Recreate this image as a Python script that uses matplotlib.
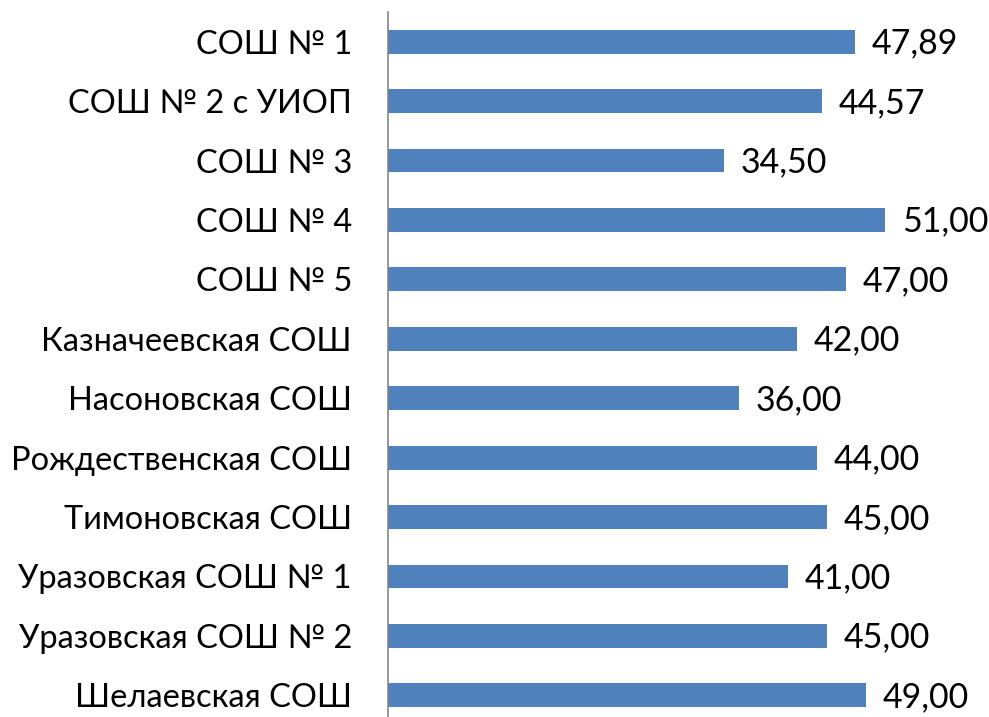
import matplotlib
matplotlib.use("Agg")
import matplotlib.pyplot as plt

categories = ["СОШ № 1", "СОШ № 2 с УИОП", "СОШ № 3", "СОШ № 4", "СОШ № 5",
              "Казначеевская СОШ", "Насоновская СОШ", "Рождественская СОШ",
              "Тимоновская СОШ", "Уразовская СОШ № 1", "Уразовская СОШ № 2",
              "Шелаевская СОШ"]
values = [47.89, 44.57, 34.50, 51.00, 47.00, 42.00, 36.00, 44.00, 45.00, 41.00, 45.00, 49.00]

plt.rcParams['font.family'] = ['Lato', 'DejaVu Sans']

W, H = 989, 717
fig = plt.figure(figsize=(W/100, H/100), dpi=100)
left, right, top, bottom = 388, 969, 12, 725
ax = fig.add_axes([left/W, 1 - bottom/H, (right-left)/W, (bottom-top)/H])

y = list(range(len(categories)))
ax.barh(y, values, height=0.4, color="#4F81BD")
ax.set_xlim(0, 59.6)
ax.set_ylim(len(categories) - 0.5, -0.5)

for yi, v in zip(y, values):
    ax.text(v + 1.7, yi + 0.03, f"{v:.2f}".replace(".", ","), va="center", ha="left",
            fontsize=24.5, color="black")

ax.set_yticks(y)
ax.set_yticklabels(categories, fontsize=23.5)
ax.tick_params(axis="y", length=0, pad=26)
ax.set_xticks([])
for s in ["top", "right", "bottom"]:
    ax.spines[s].set_visible(False)
ax.spines["left"].set_color("#868686")
ax.spines["left"].set_linewidth(1.2)

fig.savefig("out.png", dpi=100)
